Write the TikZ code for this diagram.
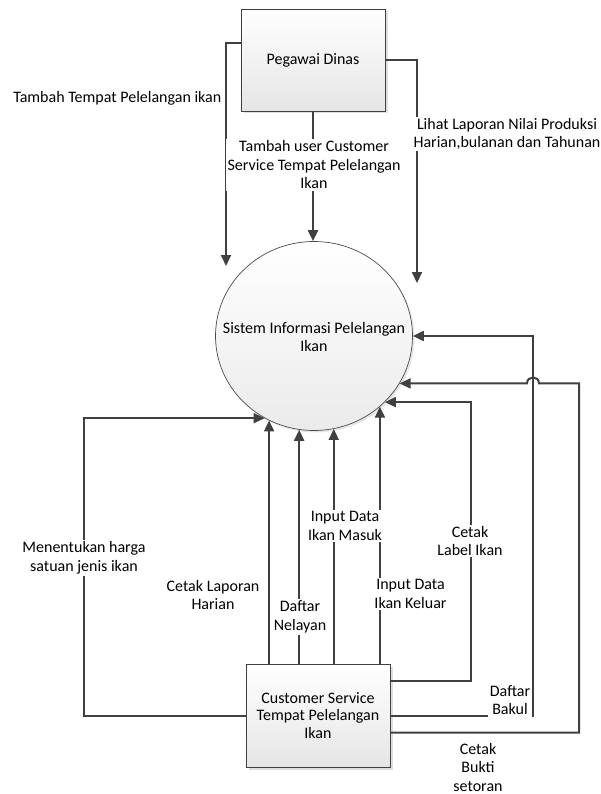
\documentclass[tikz,border=0pt]{standalone}
\usepackage{fontspec}
\setmainfont{Carlito}
\usetikzlibrary{arrows.meta,shapes.geometric,shadows,calc}

\begin{document}
\begin{tikzpicture}[
    x=1pt, y=-1pt,
    entity/.style={rectangle, draw=black!75, line width=0.8pt, minimum width=144pt, minimum height=102pt, align=center, top color=white, bottom color=black!10, drop shadow={shadow xshift=2.5pt, shadow yshift=-2.5pt, opacity=0.25}, font=\fontsize{16}{17.5}\selectfont},
    process/.style={ellipse, draw=black!70, line width=0.7pt, minimum width=197pt, minimum height=189pt, inner sep=0pt, top color=white, bottom color=black!8, drop shadow={shadow xshift=2pt, shadow yshift=-2pt, opacity=0.2}},
    arrow/.style={-{Triangle[length=11pt,width=10pt]}, line width=2pt, draw=black!75},
    label/.style={font=\fontsize{16}{18.5}\selectfont, align=center, inner sep=1.5pt},
    cover/.style={label, fill=white}
]
    \useasboundingbox (0,0) rectangle (601,794);

    % Entities and process
    \node[entity] (pegawai) at (313,60) {Pegawai Dinas};
    \node[process] (sistem) at (314,336) {};
    \node[label] (sistemlbl) at (314,337) {Sistem Informasi Pelelangan\\Ikan};
    \node[entity, minimum height=103pt] (cs) at (318,715.5) {Customer Service\\Tempat Pelelangan\\Ikan};

    % Bends and free ends
    \coordinate (tempatend) at (226,266);
    \coordinate (lihatend) at (417,283);
    \coordinate (hargax) at (84,0);
    \coordinate (labelx) at (471,0);
    \coordinate (bakulx) at (533,0);
    \coordinate (buktix) at (579,0);

    % Flows from Pegawai Dinas
    \draw[arrow] ([yshift=17pt]pegawai.west) -| (tempatend);
    \draw[arrow] (pegawai.south) -- (pegawai.south |- sistem.north);
    \draw[arrow] (pegawai.east) -| (lihatend);

    % Flows from Customer Service
    \draw[arrow] (cs.west) -| (hargax |- sistem.239) -- (sistem.239);
    \draw[arrow] (sistem.242 |- cs.north) -- (sistem.242);
    \draw[arrow] (sistem.261 |- cs.north) -- (sistem.261);
    \draw[arrow] (sistem.282 |- cs.north) -- (sistem.282);
    \draw[arrow] (sistem.313 |- cs.north) -- (sistem.313);
    \draw[arrow] ([yshift=35pt]cs.east) -| (labelx |- sistem.317) -- (sistem.317);
    \draw[arrow] (cs.east) -| (bakulx |- sistem.east) -- (sistem.east);
    \draw[arrow] ([yshift=-17pt]cs.east) -| (buktix |- sistem.331)
        -- ($(bakulx |- sistem.331)+(6,0)$)
        .. controls ($(bakulx |- sistem.331)+(6,-8)$) and ($(bakulx |- sistem.331)+(-6,-8)$) .. ($(bakulx |- sistem.331)+(-6,0)$)
        -- (sistem.331);

    % Labels
    \node[label, anchor=east] (tempatlbl) at (223,98) {Tambah Tempat Pelelangan ikan};
    \node[cover] (userlbl) at (314,165) {Tambah user Customer\\Service Tempat Pelelangan\\Ikan};
    \node[cover] (lihatlbl) at (507,134) {Lihat Laporan Nilai Produksi\\Harian,bulanan dan Tahunan};
    \node[cover] (hargalbl) at (84,558) {Menentukan harga\\satuan jenis ikan};
    \node[label] (harianlbl) at (213,595) {Cetak Laporan\\Harian};
    \node[cover] (nelayanlbl) at (300,617) {Daftar\\Nelayan};
    \node[cover] (masuklbl) at (345,526) {Input Data\\Ikan Masuk};
    \node[cover] (keluarlbl) at (410.5,594) {Input Data\\Ikan Keluar};
    \node[cover] (cetaklbl) at (470,541) {Cetak\\Label Ikan};
    \node[cover, inner sep=2pt] (bakullbl) at (510,700) {Daftar\\Bakul};
    \node[label] (buktilbl) at (478,767) {Cetak\\Bukti\\setoran};
\end{tikzpicture}
\end{document}
